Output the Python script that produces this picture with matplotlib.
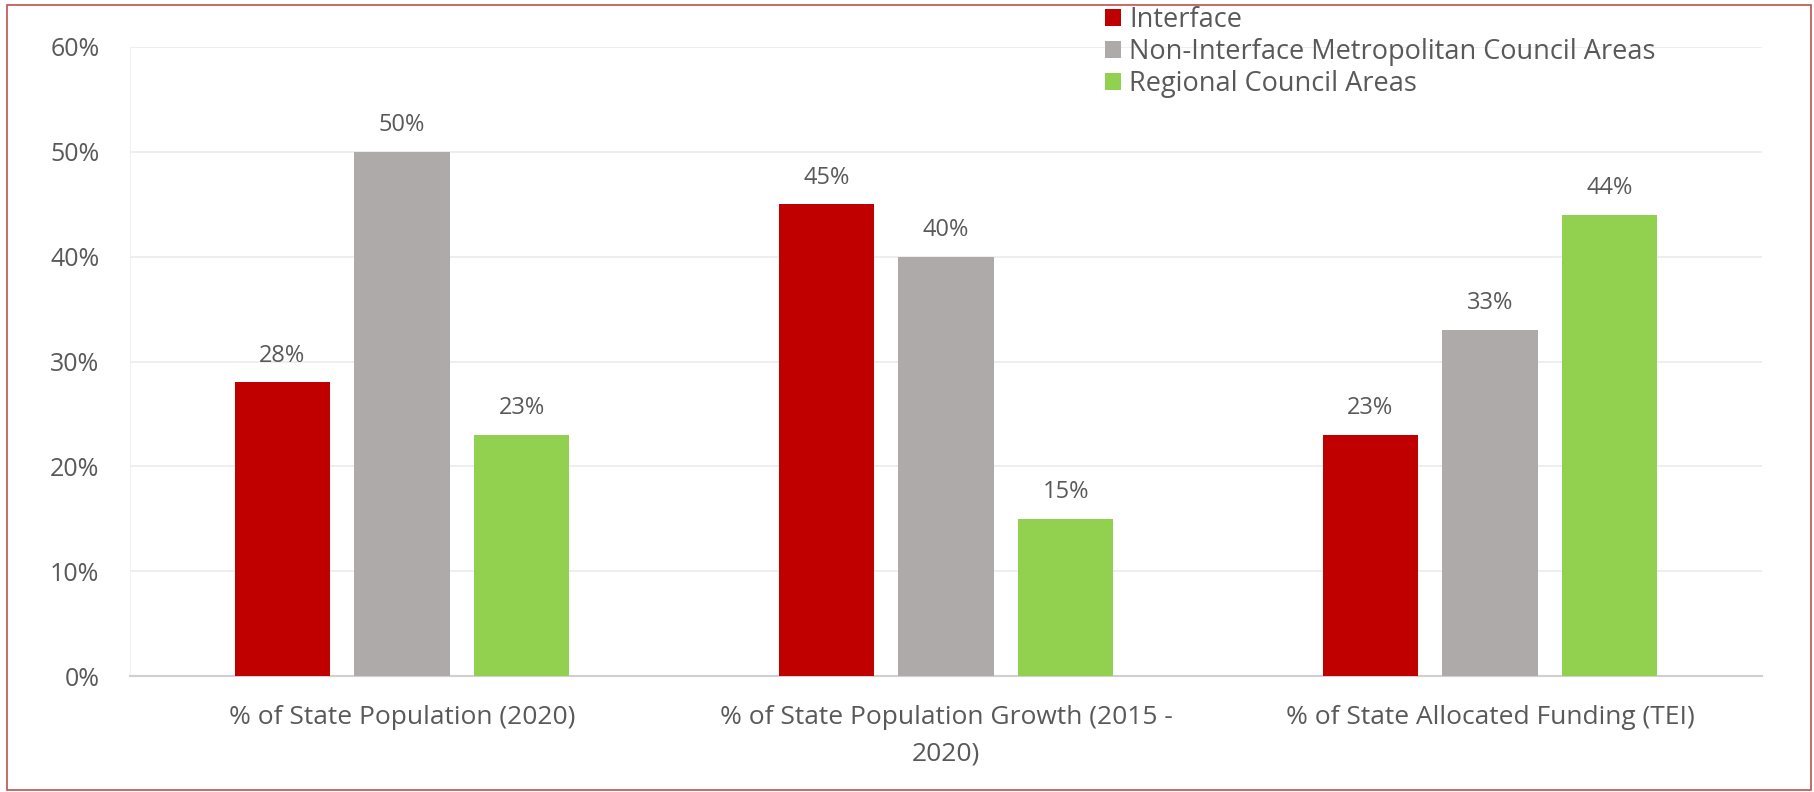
import matplotlib
matplotlib.use("Agg")
import matplotlib.pyplot as plt
import numpy as np
from matplotlib.patches import Rectangle

categories = ["% of State Population (2020)",
              "% of State Population Growth (2015 -\n2020)",
              "% of State Allocated Funding (TEI)"]
series = ["Interface", "Non-Interface Metropolitan Council Areas", "Regional Council Areas"]
interface = [28, 45, 23]
non_interface = [50, 40, 33]
regional = [23, 15, 44]
colors = ["#C00000", "#AEAAAA", "#92D050"]
yticks = [0, 10, 20, 30, 40, 50, 60]

TXT = "#595959"
plt.rcParams["font.family"] = ["Open Sans", "DejaVu Sans"]

fig = plt.figure(figsize=(18.14, 7.92), dpi=100)
ax = fig.add_axes([130 / 1814, 116 / 792, 1632 / 1814, 629 / 792])

x = np.arange(len(categories))
w, step = 0.175, 0.22
for i, (vals, name, c) in enumerate(zip([interface, non_interface, regional], series, colors)):
    pos = x + (i - 1) * step
    ax.bar(pos, vals, width=w, color=c, label=name, zorder=3)
    for p, v in zip(pos, vals):
        ax.text(p, v + 1.4, f"{v}%", ha="center", va="bottom", fontsize=17, color=TXT)

ax.set_xlim(-0.5, 2.5)
ax.set_ylim(0, 60)
ax.set_yticks(yticks)
ax.set_yticklabels([f"{t}%" for t in yticks], fontsize=18, color=TXT)
ax.set_xticks(x)
ax.set_xticklabels(categories, fontsize=19, color=TXT, linespacing=1.62)
ax.tick_params(length=0)
ax.tick_params(axis="y", pad=22)
ax.tick_params(axis="x", pad=21)
ax.grid(axis="y", color="#EBEBEB", lw=1.2, zorder=0)
for s in ("top", "right"):
    ax.spines[s].set_visible(False)
ax.spines["left"].set_color("#F0F0F0")
ax.spines["bottom"].set_color("#D0D0D0")
ax.spines["bottom"].set_linewidth(1.5)

ax.legend(loc="upper left", bbox_to_anchor=(1086 / 1814, 1 + 13 / 792),
          bbox_transform=fig.transFigure, frameon=False, fontsize=19.5,
          handlelength=0.6, handleheight=0.6, handletextpad=0.3,
          labelspacing=0.15, labelcolor=TXT, borderpad=0.2)

# thin red frame around the whole chart
fig.patches.append(Rectangle((7 / 1814, 2 / 792), 1804 / 1814, 785 / 792,
                             transform=fig.transFigure, fill=False,
                             edgecolor="#C0504D", lw=1.2))

fig.savefig("out.png", dpi=100)
